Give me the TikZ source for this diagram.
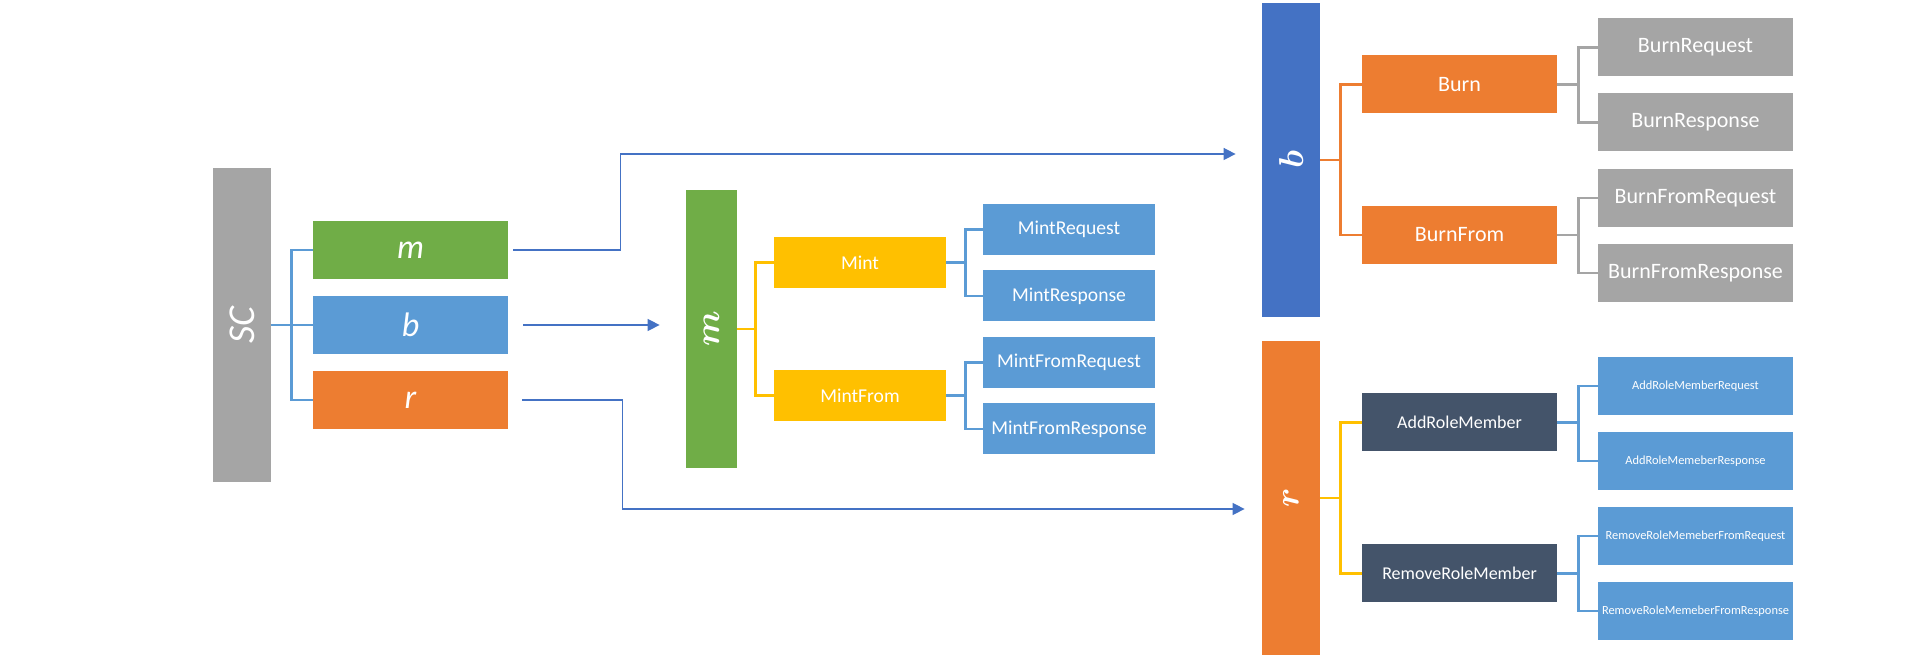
\documentclass[tikz,border=0pt]{standalone}
\usepackage{fontspec}
\setmainfont{Carlito}
\usepackage{graphicx}
\usepackage{tikz}
\usetikzlibrary{arrows.meta}
\definecolor{scgrey}{HTML}{A5A5A5}
\definecolor{mgreen}{HTML}{70AD47}
\definecolor{lightblue}{HTML}{5B9BD5}
\definecolor{darkblue}{HTML}{4472C4}
\definecolor{rorange}{HTML}{ED7D31}
\definecolor{mintyellow}{HTML}{FFC000}
\definecolor{slate}{HTML}{44546A}
\tikzstyle{tallbox} = [rectangle, minimum width=29pt, minimum height=157pt, inner sep=0pt, text=white, font=\fontsize{19}{21}\selectfont\boldmath]
\tikzstyle{subbox} = [rectangle, minimum width=97.5pt, minimum height=29pt, inner sep=0pt, text=white, font=\fontsize{17}{20}\selectfont\itshape]
\tikzstyle{funcbox} = [rectangle, minimum width=97.5pt, minimum height=29pt, inner sep=0pt, text=white, font=\fontsize{11}{13}\selectfont]
\tikzstyle{mintbox} = [rectangle, minimum width=86pt, minimum height=25.5pt, inner sep=0pt, text=white, font=\fontsize{9.8}{12}\selectfont]
\tikzstyle{rolebox} = [funcbox, font=\fontsize{9}{11}\selectfont]
\tikzstyle{tinybox} = [funcbox, font=\fontsize{6.2}{8}\selectfont]
\tikzstyle{arrow} = [draw=darkblue, line width=0.75pt, -{Triangle[length=6pt,width=6pt]}]
\tikzstyle{branch} = [line width=1.2pt]

\begin{document}
\begin{tikzpicture}[x=0.5pt, y=-0.5pt]
\useasboundingbox (0,0) rectangle (1916,656);

% left part
\node [tallbox, fill=scgrey, font=\fontsize{19}{21}\selectfont\itshape] (sc) at (242,325) {\rotatebox{90}{SC}};
\node [subbox, fill=mgreen] (msub) at (410.5,250) {m};
\node [subbox, fill=lightblue] (bsub) at (410.5,325) {b};
\node [subbox, fill=rorange] (rsub) at (410.5,400) {r};

% mint part
\node [tallbox, fill=mgreen, minimum width=25.5pt, minimum height=139pt] (mtall) at (711.5,329) {\rotatebox{90}{$m$}};
\node [mintbox, fill=mintyellow] (mint) at (860,262.5) {Mint};
\node [mintbox, fill=mintyellow] (mintfrom) at (860,395.5) {MintFrom};
\node [mintbox, fill=lightblue] (mintreq) at (1069,229.5) {MintRequest};
\node [mintbox, fill=lightblue] (mintresp) at (1069,296) {MintResponse};
\node [mintbox, fill=lightblue] (mintfromreq) at (1069,362.5) {MintFromRequest};
\node [mintbox, fill=lightblue] (mintfromresp) at (1069,429) {MintFromResponse};

% burn part
\node [tallbox, fill=darkblue] (btall) at (1291,160) {\rotatebox{90}{$b$}};
\node [funcbox, fill=rorange] (burn) at (1459.5,84.5) {Burn};
\node [funcbox, fill=rorange] (burnfrom) at (1459.5,235) {BurnFrom};
\node [funcbox, fill=scgrey] (burnreq) at (1695.5,47.5) {BurnRequest};
\node [funcbox, fill=scgrey] (burnresp) at (1695.5,122.5) {BurnResponse};
\node [funcbox, fill=scgrey] (burnfromreq) at (1695.5,198) {BurnFromRequest};
\node [funcbox, fill=scgrey] (burnfromresp) at (1695.5,273) {BurnFromResponse};

% role part
\node [tallbox, fill=rorange] (rtall) at (1291,498) {\rotatebox{90}{$r$}};
\node [rolebox, fill=slate] (addrole) at (1459.5,422.5) {AddRoleMember};
\node [rolebox, fill=slate] (removerole) at (1459.5,573.5) {RemoveRoleMember};
\node [tinybox, fill=lightblue] (addreq) at (1695.5,386) {AddRoleMemberRequest};
\node [tinybox, fill=lightblue] (addresp) at (1695.5,461) {AddRoleMemeberResponse};
\node [tinybox, fill=lightblue] (removereq) at (1695.5,536) {RemoveRoleMemeberFromRequest};
\node [tinybox, fill=lightblue] (removeresp) at (1695.5,611) {RemoveRoleMemeberFromResponse};

% brackets
\foreach \c in {msub,bsub,rsub}
  \draw [branch, lightblue] (sc.east) -- ++(20,0) |- (\c.west);
\foreach \c in {mint,mintfrom}
  \draw [branch, mintyellow] (mtall.east) -- ++(18,0) |- (\c.west);
\foreach \c in {mintreq,mintresp}
  \draw [branch, lightblue] (mint.east) -- ++(19,0) |- (\c.west);
\foreach \c in {mintfromreq,mintfromresp}
  \draw [branch, lightblue] (mintfrom.east) -- ++(19,0) |- (\c.west);
\foreach \c in {burn,burnfrom}
  \draw [branch, rorange] (btall.east) -- ++(20,0) |- (\c.west);
\foreach \c in {burnreq,burnresp}
  \draw [branch, scgrey] (burn.east) -- ++(21,0) |- (\c.west);
\foreach \c in {burnfromreq,burnfromresp}
  \draw [branch, scgrey] (burnfrom.east) -- ++(21,0) |- (\c.west);
\foreach \c in {addrole,removerole}
  \draw [branch, mintyellow] (rtall.east) -- ++(20,0) |- (\c.west);
\foreach \c in {addreq,addresp}
  \draw [branch, lightblue] (addrole.east) -- ++(21,0) |- (\c.west);
\foreach \c in {removereq,removeresp}
  \draw [branch, lightblue] (removerole.east) -- ++(21,0) |- (\c.west);

% arrows
\draw [arrow] ([xshift=2.5pt]msub.east) -- ++(107,0) |- ([xshift=-13pt,yshift=3pt]btall.west);
\draw [arrow] ([xshift=7.5pt]bsub.east) -- ([xshift=-13pt]bsub.east -| mtall.west);
\draw [arrow] ([xshift=7pt]rsub.east) -- ++(100,0) |- ([xshift=-8.5pt,yshift=-5.5pt]rtall.west);

\end{tikzpicture}
\end{document}
